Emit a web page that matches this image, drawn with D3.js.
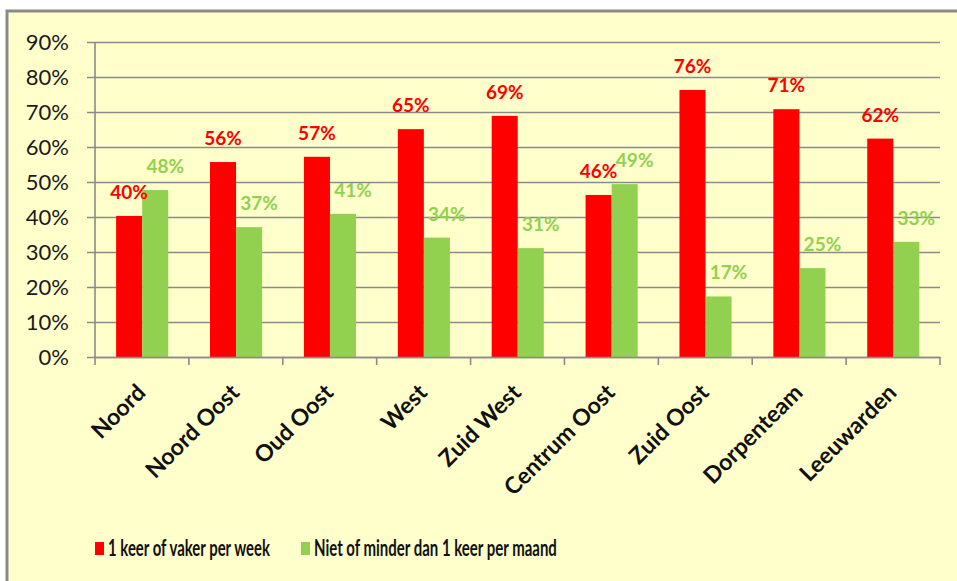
<!DOCTYPE html>
<html>
<head>
<meta charset="utf-8">
<script src="https://cdn.jsdelivr.net/npm/d3@7"></script>
<style>
  body { margin: 0; background: #fff; }
  svg { display: block; font-family: Lato, "Open Sans", sans-serif; }
</style>
</head>
<body>
<div id="chart"></div>
<script>
// data
const categories = ["Noord", "Noord Oost", "Oud Oost", "West", "Zuid West", "Centrum Oost", "Zuid Oost", "Dorpenteam", "Leeuwarden"];
const series = ["1 keer of vaker per week", "Niet of minder dan 1 keer per maand"];
const weekly = [0.403, 0.557, 0.572, 0.651, 0.689, 0.463, 0.763, 0.708, 0.624];
const monthly = [0.477, 0.371, 0.409, 0.341, 0.311, 0.494, 0.173, 0.254, 0.329];
const yTicks = [0, 0.1, 0.2, 0.3, 0.4, 0.5, 0.6, 0.7, 0.8, 0.9];
const colors = ["#ff0000", "#92d050"];

const W = 957, H = 581;
const plot = {left: 95, right: 940, top: 42, bottom: 357};

let svg = d3.select("#chart").append("svg")
    .attr("width", W)
    .attr("height", H);

// yellow frame, only top and left edges are visible in the crop
svg.append("rect")
   .attr("x", 7).attr("y", 11)
   .attr("width", W + 20).attr("height", H + 20)
   .attr("fill", "#ffffcc")
   .attr("stroke", "#8a8a8a")
   .attr("stroke-width", 3);

//define scales
let x0 = d3.scaleBand()
           .domain(categories)
           .range([plot.left, plot.right]);
let bw = x0.bandwidth();
let x1 = d3.scaleBand()
           .domain([0, 1])
           .range([bw * 0.225, bw * 0.78]);
let y = d3.scaleLinear()
          .domain([0, 0.9])
          .range([plot.bottom, plot.top]);

// gridlines + y axis
let yAxis = d3.axisLeft(y)
              .tickValues(yTicks)
              .tickFormat(d3.format(".0%"))
              .tickSize(-(plot.right - plot.left))
              .tickSizeOuter(0);

let gy = svg.append("g")
            .attr("transform", "translate(" + plot.left + ",0)")
            .call(yAxis);
gy.select(".domain").remove();
gy.selectAll(".tick line")
  .attr("x1", -8)
  .attr("stroke", "#8a8a8a")
  .attr("stroke-width", 1.6);
gy.selectAll(".tick text")
  .attr("x", -26)
  .attr("dy", "0.36em")
  .attr("fill", "#1a1a1a")
  .style("font-size", "22px")
  .style("font-family", "Lato, sans-serif");

// y axis line
svg.append("line")
   .attr("x1", plot.left).attr("x2", plot.left)
   .attr("y1", plot.top).attr("y2", plot.bottom)
   .attr("stroke", "#8a8a8a").attr("stroke-width", 1.6);

// bars
let rows = categories.map((c, i) => ({cat: c, vals: [weekly[i], monthly[i]]}));

let groups = svg.selectAll("g.cat")
    .data(rows)
    .enter()
    .append("g")
    .attr("class", "cat")
    .attr("transform", d => "translate(" + x0(d.cat) + ",0)");

groups.selectAll("rect")
      .data(d => d.vals.map((v, s) => ({v: v, s: s})))
      .enter()
      .append("rect")
      .attr("x", d => x1(d.s))
      .attr("y", d => y(d.v))
      .attr("width", x1.bandwidth())
      .attr("height", d => plot.bottom - y(d.v))
      .attr("fill", d => colors[d.s]);

groups.selectAll("text")
      .data(d => d.vals.map((v, s) => ({v: v, s: s})))
      .enter()
      .append("text")
      .attr("x", d => x1(d.s) + x1.bandwidth() / 2 + (d.s === 1 ? 10 : 0))
      .attr("y", d => y(d.v) - 17)
      .attr("text-anchor", "middle")
      .attr("fill", d => colors[d.s])
      .style("font-size", "19px")
      .style("font-weight", "bold")
      .text(d => Math.round(d.v * 100) + "%");

// x axis
let xAxis = d3.axisBottom(x0).tickSize(0).tickSizeOuter(0);
let gx = svg.append("g")
            .attr("transform", "translate(0," + plot.bottom + ")")
            .call(xAxis);
gx.select(".domain")
  .attr("stroke", "#8a8a8a").attr("stroke-width", 1.6);
gx.selectAll(".tick text")
  .attr("y", 0).attr("dy", 0)
  .attr("text-anchor", "end")
  .attr("transform", "translate(5,37) rotate(-45)")
  .attr("fill", "#111")
  .style("font-size", "23px")
  .style("font-weight", "bold")
  .style("font-family", "Lato, sans-serif");

// tick marks at band edges
let edges = categories.map(c => x0(c)).concat([plot.right]);
svg.selectAll("line.xtick")
   .data(edges)
   .enter()
   .append("line")
   .attr("class", "xtick")
   .attr("x1", d => d).attr("x2", d => d)
   .attr("y1", plot.bottom).attr("y2", plot.bottom + 8)
   .attr("stroke", "#8a8a8a").attr("stroke-width", 1.6);

// legend - text is squeezed horizontally like the original
let legendX = [95, 301];
let legendW = [162, 243];
let legend = svg.selectAll("g.legend")
    .data(series)
    .enter()
    .append("g")
    .attr("class", "legend")
    .attr("transform", (d, i) => "translate(" + legendX[i] + ",542)");
legend.append("rect")
      .attr("width", 9).attr("height", 13)
      .attr("fill", (d, i) => colors[i]);
legend.append("text")
      .attr("fill", "#111")
      .style("font-size", "22px")
      .style("font-weight", "bold")
      .text(d => d)
      .attr("transform", function(d, i){
          let sx = legendW[i] / this.getComputedTextLength();
          return "translate(13,14) scale(" + sx + ",1)";
      });
</script>
</body>
</html>
